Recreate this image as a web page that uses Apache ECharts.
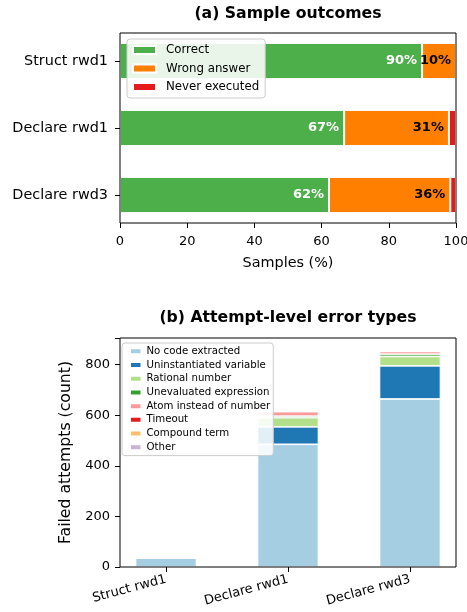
<!DOCTYPE html>
<html>
<head>
<meta charset="utf-8">
<script src="https://cdn.jsdelivr.net/npm/echarts@6/dist/echarts.min.js"></script>
<style>
html,body{margin:0;padding:0;background:#fff;}
#chart{width:467px;height:612px;}
</style>
</head>
<body>
<div id="chart"></div>
<script>
// ---- Panel (a) data ----
const topCategories = ['Struct rwd1', 'Declare rwd1', 'Declare rwd3'];
const correctPct = [89.9, 66.7, 62.2];
const wrongPct = [10.1, 31.2, 36.1];
const neverPct = [0, 2.1, 1.7];
const topTicks = [0, 20, 40, 60, 80, 100];

// ---- Panel (b) data ----
const botCategories = ['Struct rwd1', 'Declare rwd1', 'Declare rwd3'];
const noCode = [36, 485, 664];
const uninstVar = [0, 69, 131];
const rational = [0, 36, 37];
const unevaluated = [0, 6, 9];
const atomInstead = [0, 18, 11];
const timeoutErr = [0, 2, 1];
const compoundTerm = [0, 1, 2];
const otherErr = [0, 1, 1];
const botTicks = [0, 200, 400, 600, 800];
const botMax = 905;

const FONT = 'DejaVu Sans';
const chart = echarts.init(document.getElementById('chart'), null, {renderer: 'canvas'});

function pctLabel(color) {
  return {
    show: true, position: 'insideRight', distance: 5,
    color: color, fontFamily: FONT, fontWeight: 'bold', fontSize: 13,
    formatter: p => (p.value >= 5 ? Math.round(p.value) + '%' : '')
  };
}

const botSeriesDefs = [
  ['No code extracted', noCode, '#a6cee3'],
  ['Uninstantiated variable', uninstVar, '#1f78b4'],
  ['Rational number', rational, '#b2df8a'],
  ['Unevaluated expression', unevaluated, '#33a02c'],
  ['Atom instead of number', atomInstead, '#fb9a99'],
  ['Timeout', timeoutErr, '#e31a1c'],
  ['Compound term', compoundTerm, '#fdbf6f'],
  ['Other', otherErr, '#cab2d6']
];

const tickStyle = {show: true, length: 5, lineStyle: {color: '#000', width: 1}};

const option = {
  animation: false,
  backgroundColor: '#fff',
  textStyle: {fontFamily: FONT},
  graphic: [
    {type: 'text', x: 288, y: 14, style: {text: '(a) Sample outcomes', fontFamily: FONT, fontWeight: 'bold', fontSize: 15.7, fill: '#000', textAlign: 'center', textVerticalAlign: 'middle'}},
    {type: 'text', x: 288, y: 318, style: {text: '(b) Attempt-level error types', fontFamily: FONT, fontWeight: 'bold', fontSize: 15.7, fill: '#000', textAlign: 'center', textVerticalAlign: 'middle'}}
  ],
  grid: [
    {left: 120, width: 336, top: 33, height: 190, show: true, borderColor: '#000', borderWidth: 1, backgroundColor: 'transparent', z: 3, outerBoundsMode: 'none'},
    {left: 120, width: 336, top: 27.5, height: 201, outerBoundsMode: 'none'},
    {left: 120, width: 336, top: 338, height: 229, show: true, borderColor: '#000', borderWidth: 1, backgroundColor: 'transparent', z: 3, outerBoundsMode: 'none'},
    {left: 105, width: 366, top: 338, height: 229, outerBoundsMode: 'none'}
  ],
  xAxis: [
    {gridIndex: 0, type: 'value', min: topTicks[0], max: topTicks[topTicks.length - 1], interval: topTicks[1] - topTicks[0],
      splitLine: {show: false}, axisLine: {show: false}, axisTick: tickStyle,
      axisLabel: {color: '#000', fontSize: 13, fontFamily: FONT, margin: 12},
      name: 'Samples (%)', nameLocation: 'middle', nameGap: 33, nameTextStyle: {color: '#000', fontSize: 14.4, fontFamily: FONT}},
    {gridIndex: 1, type: 'value', min: 0, max: 100, show: false},
    {gridIndex: 2, type: 'value', min: 0, max: 1, show: false},
    {gridIndex: 3, type: 'category', data: botCategories, axisLine: {show: false},
      axisTick: Object.assign({alignWithLabel: true}, tickStyle),
      axisLabel: {color: '#000', fontSize: 13, fontFamily: FONT, rotate: 15, margin: 12, interval: 0}}
  ],
  yAxis: [
    {gridIndex: 0, type: 'value', min: 0, max: 1, show: false},
    {gridIndex: 1, type: 'category', data: topCategories, inverse: true, axisLine: {show: false},
      axisTick: Object.assign({alignWithLabel: true}, tickStyle),
      axisLabel: {color: '#000', fontSize: 14.4, fontFamily: FONT, margin: 12}},
    {gridIndex: 2, type: 'value', min: 0, max: botMax, interval: botTicks[1] - botTicks[0],
      splitLine: {show: false}, axisLine: {show: false}, axisTick: tickStyle,
      axisLabel: {color: '#000', fontSize: 13, fontFamily: FONT, margin: 10,
        formatter: v => (botTicks.indexOf(v) >= 0 ? String(v) : '')},
      name: 'Failed attempts (count)', nameLocation: 'middle', nameGap: 35, nameTextStyle: {color: '#000', fontSize: 15.7, fontFamily: FONT}},
    {gridIndex: 3, type: 'value', min: 0, max: botMax, show: false}
  ],
  legend: [
    {data: ['Correct', 'Wrong answer', 'Never executed'], orient: 'vertical', left: 127, top: 39,
      itemWidth: 23, itemHeight: 8, itemGap: 6.5, icon: 'rect', padding: [5, 6, 5, 5],
      backgroundColor: 'rgba(255,255,255,0.88)', borderColor: '#cccccc', borderWidth: 1, borderRadius: 3,
      textStyle: {color: '#000', fontSize: 11.8, fontFamily: FONT, lineHeight: 12, padding: [0, 0, 0, 5]}},
    {data: botSeriesDefs.map(d => d[0]), orient: 'vertical', left: 122, top: 343,
      itemWidth: 11.5, itemHeight: 6, itemGap: 3, icon: 'rect', padding: [3, 3, 3, 7],
      backgroundColor: 'rgba(255,255,255,0.88)', borderColor: '#cccccc', borderWidth: 1, borderRadius: 3,
      textStyle: {color: '#000', fontSize: 10.2, fontFamily: FONT, lineHeight: 10.7}}
  ],
  series: [
    {name: 'Correct', type: 'bar', xAxisIndex: 1, yAxisIndex: 1, stack: 'a', data: correctPct, barWidth: '54%',
      itemStyle: {color: '#4daf4a', borderColor: '#fff', borderWidth: 1}, label: pctLabel('#fff')},
    {name: 'Wrong answer', type: 'bar', xAxisIndex: 1, yAxisIndex: 1, stack: 'a', data: wrongPct, barWidth: '54%',
      itemStyle: {color: '#ff7f00', borderColor: '#fff', borderWidth: 1}, label: pctLabel('#000')},
    {name: 'Never executed', type: 'bar', xAxisIndex: 1, yAxisIndex: 1, stack: 'a', data: neverPct, barWidth: '54%',
      itemStyle: {color: '#e41a1c', borderColor: '#fff', borderWidth: 1}, label: pctLabel('#000')}
  ].concat(botSeriesDefs.map(d => ({
      name: d[0], type: 'bar', xAxisIndex: 3, yAxisIndex: 3, stack: 'b', data: d[1], barWidth: '50%',
      itemStyle: {color: d[2], borderColor: '#fff', borderWidth: 0.8}
  })))
};
chart.setOption(option);
</script>
</body>
</html>
